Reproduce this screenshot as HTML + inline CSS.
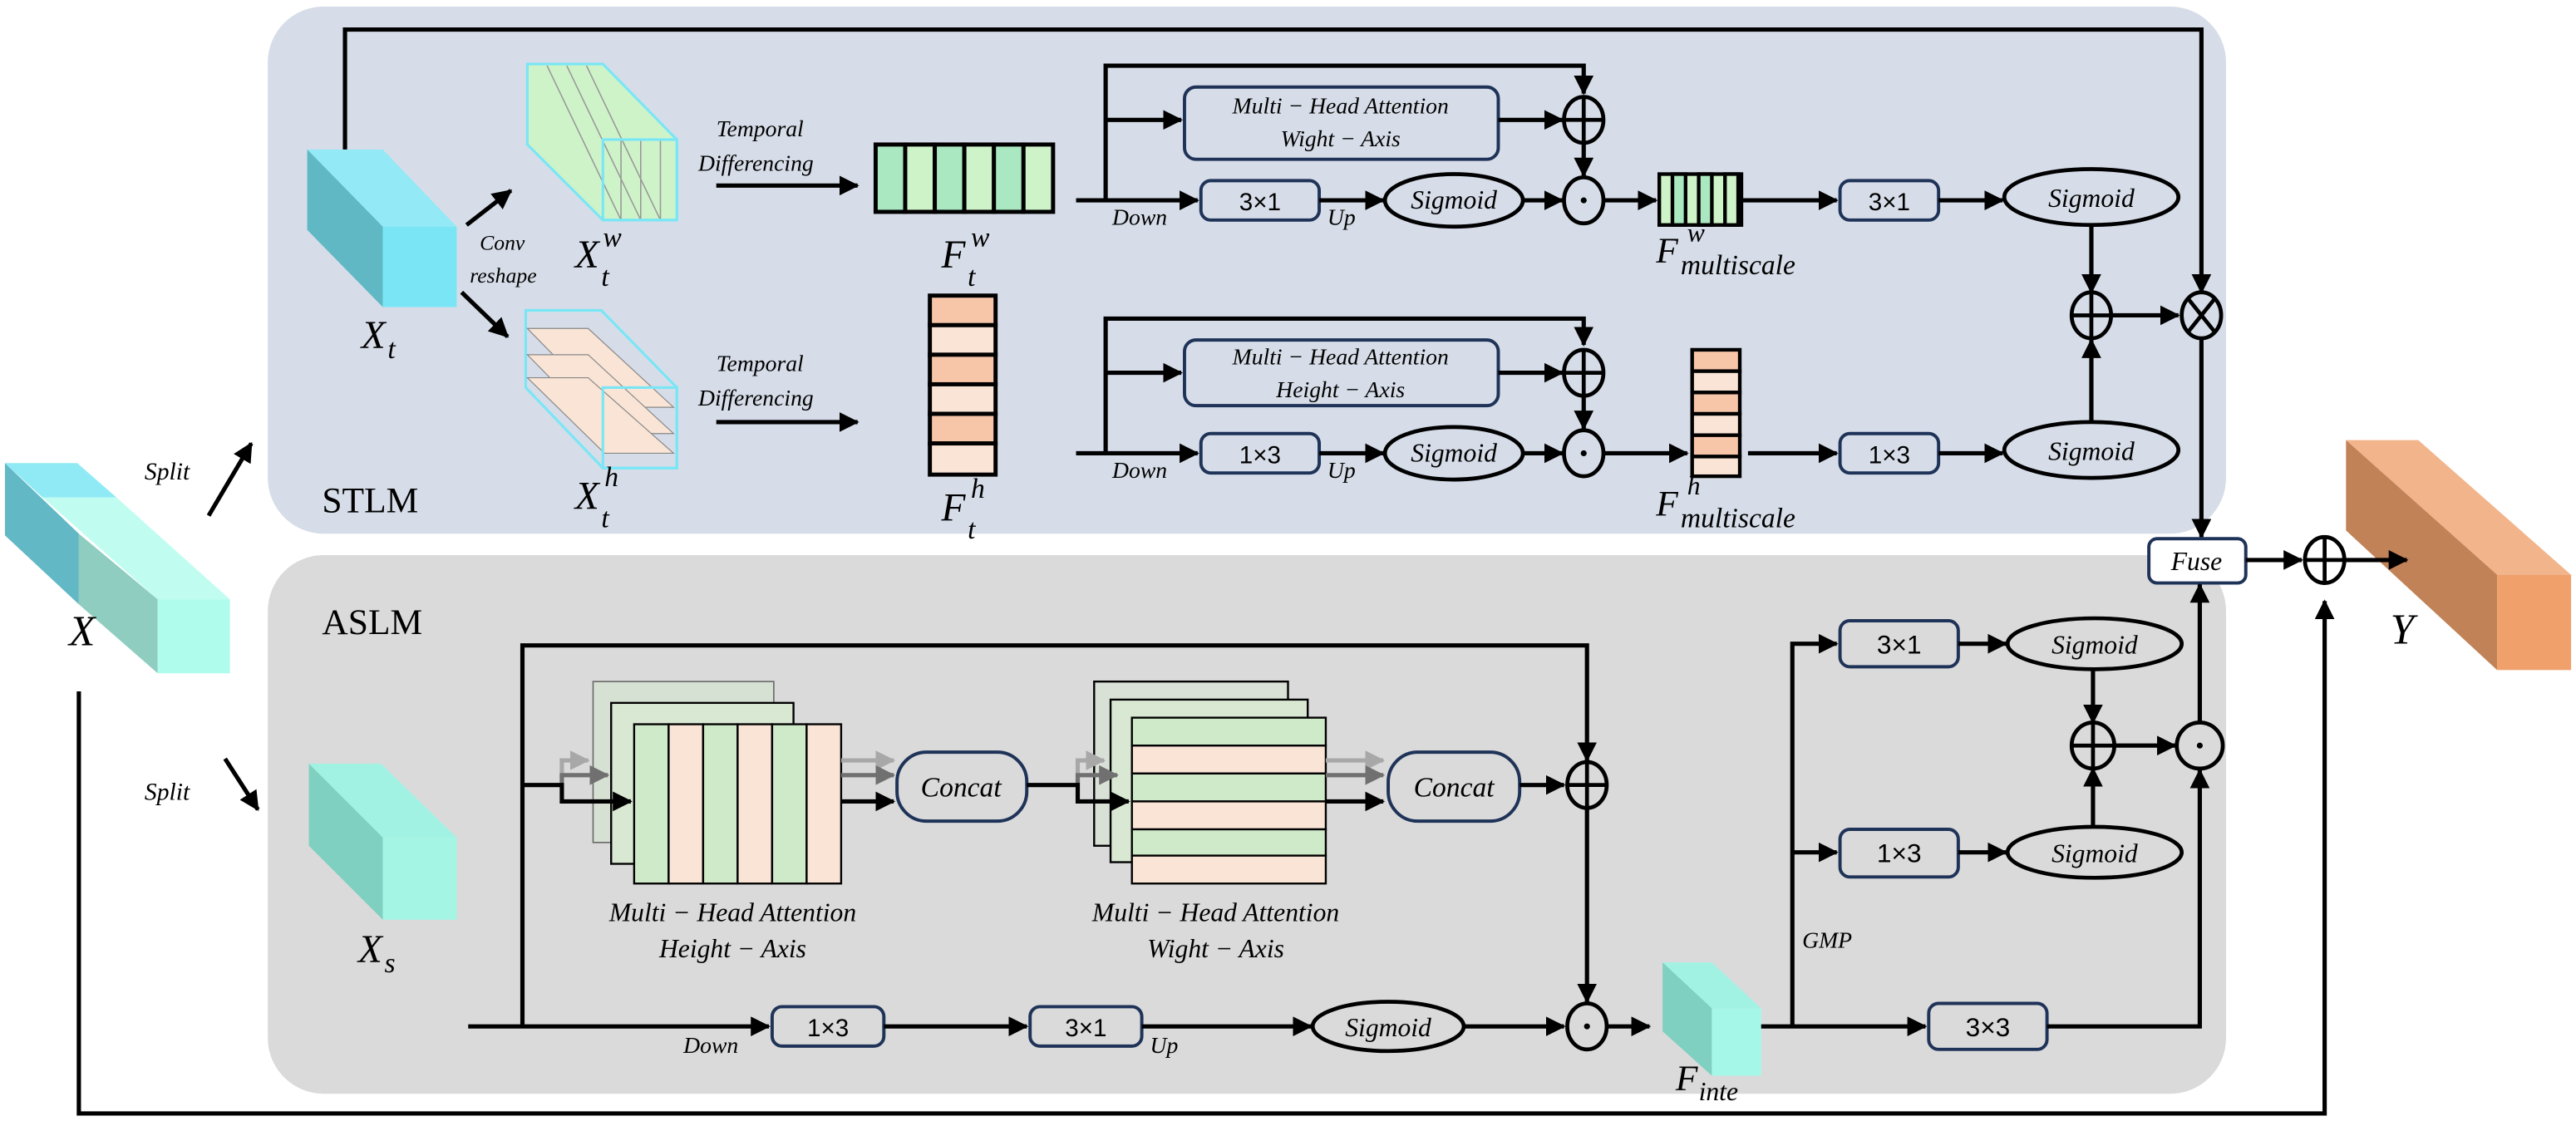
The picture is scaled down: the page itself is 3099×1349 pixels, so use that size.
<!DOCTYPE html>
<html><head><meta charset="utf-8"><style>
html,body{margin:0;padding:0;background:#fff;}
svg{display:block;}
text{font-family:"Liberation Serif",serif;font-style:italic;fill:#000;}
.n{font-style:normal;font-family:"Liberation Sans",sans-serif;}
.l{stroke:#000;stroke-width:2.6;fill:none;}
.b{fill:none;stroke:#1f3358;stroke-width:2;}
.e{fill:none;stroke:#000;stroke-width:2.4;}
</style></head><body>
<svg width="3099" height="1349" viewBox="0 0 1568 682.6" preserveAspectRatio="none" xmlns="http://www.w3.org/2000/svg">
<defs>
<marker id="a" markerUnits="userSpaceOnUse" markerWidth="12" markerHeight="12" refX="11" refY="6" orient="auto"><path d="M0,0 L12,6 L0,12 z" fill="#000"/></marker>
<marker id="g1" markerUnits="userSpaceOnUse" markerWidth="12" markerHeight="12" refX="11" refY="6" orient="auto"><path d="M0,0 L12,6 L0,12 z" fill="#a8a8a8"/></marker>
<marker id="g2" markerUnits="userSpaceOnUse" markerWidth="12" markerHeight="12" refX="11" refY="6" orient="auto"><path d="M0,0 L12,6 L0,12 z" fill="#707070"/></marker>
</defs>

<!-- panels -->
<rect x="163" y="4" width="1192" height="321" rx="34" fill="#d6dde8"/>
<rect x="163" y="338" width="1192" height="328" rx="34" fill="#dadada"/>
<text x="196" y="312" class="n" style="font-family:'Liberation Serif',serif;font-size:22px">STLM</text>
<text x="196" y="386" class="n" style="font-family:'Liberation Serif',serif;font-size:22px">ASLM</text>

<!-- X cube -->
<polygon points="3,282 47,282 71,303 26,303" fill="#90eaf5"/>
<polygon points="26,303 71,303 140,365 96,365" fill="#c0fdf0"/>
<polygon points="3,282 48,325 48,368 3,326" fill="#62b8c5"/>
<polygon points="48,325 96,365 96,410 48,368" fill="#8fcdc0"/>
<rect x="96" y="365" width="44" height="45" fill="#b0fcec"/>
<text x="42" y="393" style="font-size:26px">X</text>
<path class="l" d="M48,421 V678 H1415 V366" marker-end="url(#a)"/>
<text x="88" y="292" style="font-size:15px">Split</text>
<line class="l" x1="127" y1="314" x2="153" y2="270" marker-end="url(#a)"/>
<text x="88" y="487" style="font-size:15px">Split</text>
<line class="l" x1="137" y1="462" x2="157" y2="493" marker-end="url(#a)"/>

<!-- X_t cube -->
<polygon points="187,91 233,91 278,138 233,138" fill="#93e9f5"/>
<polygon points="187,91 233,138 233,187 187,140" fill="#61b8c5"/>
<rect x="233" y="138" width="45" height="49" fill="#7ae6f5"/>
<text x="220" y="212" style="font-size:24px">X</text><text x="236" y="218" style="font-size:17px">t</text>
<path class="l" d="M210,91 V18 H1340 V178" marker-end="url(#a)"/>
<line class="l" x1="284" y1="137" x2="311" y2="116" marker-end="url(#a)"/>
<line class="l" x1="281" y1="178" x2="309" y2="205" marker-end="url(#a)"/>
<text x="292" y="152" style="font-size:13px">Conv</text>
<text x="286" y="172" style="font-size:13px">reshape</text>

<!-- X_t^w -->
<polygon points="321,39 367,39 412,85 412,134 367,134 321,88" fill="#cff3c9"/>
<g stroke="#999" stroke-width="0.8">
<line x1="333" y1="40" x2="378" y2="134"/><line x1="345" y1="40" x2="390" y2="134"/><line x1="357" y1="40" x2="402" y2="134"/>
<line x1="378" y1="85" x2="378" y2="134"/><line x1="390" y1="85" x2="390" y2="134"/><line x1="402" y1="85" x2="402" y2="134"/>
</g>
<polygon points="321,39 367,39 412,85 412,134 367,134 321,88" fill="none" stroke="#7ae6f5" stroke-width="1.6"/>
<rect x="367" y="85" width="45" height="49" fill="none" stroke="#7ae6f5" stroke-width="1.6"/>
<text x="350" y="163" style="font-size:24px">X</text><text x="367" y="150" style="font-size:17px">w</text><text x="366" y="174" style="font-size:17px">t</text>

<!-- X_t^h -->
<polygon points="320,189 366,189 412,236 412,285 367,285 320,236" fill="none" stroke="#7ae6f5" stroke-width="1.6"/>
<polygon points="321,200 358,200 410,248 368,248" fill="#f9e4d6" stroke="#888" stroke-width="0.6"/>
<polygon points="321,216 358,216 410,264 368,264" fill="#f9e4d6" stroke="#888" stroke-width="0.6"/>
<polygon points="321,230 358,230 410,276 368,276" fill="#f9e4d6" stroke="#888" stroke-width="0.6"/>
<rect x="367" y="236" width="45" height="49" fill="none" stroke="#7ae6f5" stroke-width="1.6"/>
<text x="350" y="310" style="font-size:24px">X</text><text x="368" y="296" style="font-size:17px">h</text><text x="366" y="321" style="font-size:17px">t</text>

<!-- temporal diff -->
<text x="436" y="83" style="font-size:14px">Temporal</text>
<text x="425" y="104" style="font-size:14px">Differencing</text>
<line class="l" x1="436" y1="113" x2="522" y2="113" marker-end="url(#a)"/>
<text x="436" y="226" style="font-size:14px">Temporal</text>
<text x="425" y="247" style="font-size:14px">Differencing</text>
<line class="l" x1="436" y1="257" x2="522" y2="257" marker-end="url(#a)"/>

<!-- F_t^w -->
<g stroke="#000" stroke-width="2.5">
<rect x="533" y="88" width="18" height="41" fill="#a9e8c0"/><rect x="551" y="88" width="18" height="41" fill="#cff3c9"/>
<rect x="569" y="88" width="18" height="41" fill="#a9e8c0"/><rect x="587" y="88" width="18" height="41" fill="#cff3c9"/>
<rect x="605" y="88" width="18" height="41" fill="#a9e8c0"/><rect x="623" y="88" width="18" height="41" fill="#cff3c9"/>
</g>
<text x="573" y="163" style="font-size:24px">F</text><text x="591" y="150" style="font-size:17px">w</text><text x="589" y="174" style="font-size:17px">t</text>
<!-- F_t^h -->
<g stroke="#000" stroke-width="2.5">
<rect x="566" y="180" width="40" height="18" fill="#f7c5a8"/><rect x="566" y="198" width="40" height="18" fill="#f9e4d6"/>
<rect x="566" y="216" width="40" height="18" fill="#f7c5a8"/><rect x="566" y="234" width="40" height="18" fill="#f9e4d6"/>
<rect x="566" y="252" width="40" height="18" fill="#f7c5a8"/><rect x="566" y="270" width="40" height="19" fill="#f9e4d6"/>
</g>
<text x="573" y="317" style="font-size:24px">F</text><text x="591" y="303" style="font-size:17px">h</text><text x="589" y="328" style="font-size:17px">t</text>

<!-- upper STLM branch -->
<path class="l" d="M673,122 V40 H964 V57" marker-end="url(#a)"/>
<line class="l" x1="673" y1="73" x2="719" y2="73" marker-end="url(#a)"/>
<line class="l" x1="655" y1="122" x2="729" y2="122" marker-end="url(#a)"/>
<rect class="b" x="721" y="53" width="191" height="44" rx="7"/>
<text x="816" y="69" text-anchor="middle" style="font-size:14px">Multi − Head Attention</text>
<text x="816" y="89" text-anchor="middle" style="font-size:14px">Wight − Axis</text>
<line class="l" x1="912" y1="73" x2="951" y2="73" marker-end="url(#a)"/>
<ellipse class="e" cx="964" cy="73" rx="12" ry="14"/><path class="e" d="M952,73H976M964,59V87"/>
<line class="l" x1="964" y1="87" x2="964" y2="107" marker-end="url(#a)"/>
<ellipse class="e" cx="964" cy="122" rx="12" ry="14"/><circle cx="964" cy="122" r="1.8"/>
<text x="677" y="137" style="font-size:14px">Down</text>
<rect class="b" x="731" y="110" width="72" height="24" rx="6"/>
<text x="767" y="128" class="n" text-anchor="middle" style="font-size:15px">3×1</text>
<line class="l" x1="803" y1="122" x2="842" y2="122" marker-end="url(#a)"/>
<text x="808" y="137" style="font-size:14px">Up</text>
<ellipse class="e" cx="885" cy="122" rx="42" ry="16"/>
<text x="885" y="127" text-anchor="middle" style="font-size:16px">Sigmoid</text>
<line class="l" x1="927" y1="122" x2="951" y2="122" marker-end="url(#a)"/>
<line class="l" x1="976" y1="122" x2="1008" y2="122" marker-end="url(#a)"/>
<g stroke="#000" stroke-width="2.2">
<rect x="1010" y="106" width="50" height="31" fill="#cff3c9"/>
<rect x="1018" y="106" width="8" height="31" fill="#a9e8c0"/><rect x="1034" y="106" width="8" height="31" fill="#a9e8c0"/><rect x="1050" y="106" width="8" height="31" fill="#cff3c9"/>
</g>
<text x="1008" y="160" style="font-size:22px">F</text><text x="1027" y="147" style="font-size:16px">w</text><text x="1023" y="167" style="font-size:17px">multiscale</text>
<line class="l" x1="1060" y1="122" x2="1118" y2="122" marker-end="url(#a)"/>
<rect class="b" x="1120" y="110" width="60" height="24" rx="6"/>
<text x="1150" y="128" class="n" text-anchor="middle" style="font-size:15px">3×1</text>
<line class="l" x1="1180" y1="122" x2="1219" y2="122" marker-end="url(#a)"/>
<ellipse class="e" cx="1273" cy="120" rx="53" ry="17"/>
<text x="1273" y="126" text-anchor="middle" style="font-size:16px">Sigmoid</text>
<line class="l" x1="1273" y1="137" x2="1273" y2="178" marker-end="url(#a)"/>
<ellipse class="e" cx="1273" cy="192" rx="12" ry="14"/><path class="e" d="M1261,192H1285M1273,178V206"/>
<line class="l" x1="1285" y1="192" x2="1326" y2="192" marker-end="url(#a)"/>
<ellipse class="e" cx="1340" cy="192" rx="12" ry="14"/><path class="e" d="M1332,182L1348,202M1348,182L1332,202"/>
<line class="l" x1="1340" y1="206" x2="1340" y2="327" marker-end="url(#a)"/>

<!-- lower STLM branch -->
<path class="l" d="M673,276 V194 H964 V210" marker-end="url(#a)"/>
<line class="l" x1="673" y1="227" x2="719" y2="227" marker-end="url(#a)"/>
<line class="l" x1="655" y1="276" x2="729" y2="276" marker-end="url(#a)"/>
<rect class="b" x="721" y="207" width="191" height="40" rx="7"/>
<text x="816" y="222" text-anchor="middle" style="font-size:14px">Multi − Head Attention</text>
<text x="816" y="242" text-anchor="middle" style="font-size:14px">Height − Axis</text>
<line class="l" x1="912" y1="227" x2="951" y2="227" marker-end="url(#a)"/>
<ellipse class="e" cx="964" cy="227" rx="12" ry="14"/><path class="e" d="M952,227H976M964,213V241"/>
<line class="l" x1="964" y1="241" x2="964" y2="261" marker-end="url(#a)"/>
<ellipse class="e" cx="964" cy="276" rx="12" ry="14"/><circle cx="964" cy="276" r="1.8"/>
<text x="677" y="291" style="font-size:14px">Down</text>
<rect class="b" x="731" y="264" width="72" height="24" rx="6"/>
<text x="767" y="282" class="n" text-anchor="middle" style="font-size:15px">1×3</text>
<line class="l" x1="803" y1="276" x2="842" y2="276" marker-end="url(#a)"/>
<text x="808" y="291" style="font-size:14px">Up</text>
<ellipse class="e" cx="885" cy="276" rx="42" ry="16"/>
<text x="885" y="281" text-anchor="middle" style="font-size:16px">Sigmoid</text>
<line class="l" x1="927" y1="276" x2="951" y2="276" marker-end="url(#a)"/>
<line class="l" x1="976" y1="276" x2="1027" y2="276" marker-end="url(#a)"/>
<g stroke="#000" stroke-width="2.2">
<rect x="1030" y="213" width="29" height="13" fill="#f7c5a8"/><rect x="1030" y="226" width="29" height="13" fill="#f9e4d6"/>
<rect x="1030" y="239" width="29" height="13" fill="#f7c5a8"/><rect x="1030" y="252" width="29" height="13" fill="#f9e4d6"/>
<rect x="1030" y="265" width="29" height="13" fill="#f7c5a8"/><rect x="1030" y="278" width="29" height="12" fill="#f9e4d6"/>
</g>
<text x="1008" y="314" style="font-size:22px">F</text><text x="1027" y="301" style="font-size:16px">h</text><text x="1023" y="321" style="font-size:17px">multiscale</text>
<line class="l" x1="1064" y1="276" x2="1118" y2="276" marker-end="url(#a)"/>
<rect class="b" x="1120" y="264" width="60" height="24" rx="6"/>
<text x="1150" y="282" class="n" text-anchor="middle" style="font-size:15px">1×3</text>
<line class="l" x1="1180" y1="276" x2="1219" y2="276" marker-end="url(#a)"/>
<ellipse class="e" cx="1273" cy="274" rx="53" ry="17"/>
<text x="1273" y="280" text-anchor="middle" style="font-size:16px">Sigmoid</text>
<line class="l" x1="1273" y1="257" x2="1273" y2="207" marker-end="url(#a)"/>

<!-- Fuse and output -->
<rect x="1308" y="328" width="59" height="27" rx="5" fill="#fff" stroke="#1f3358" stroke-width="2"/>
<text x="1337" y="347" text-anchor="middle" style="font-size:16px">Fuse</text>
<line class="l" x1="1367" y1="341" x2="1401" y2="341" marker-end="url(#a)"/>
<ellipse class="e" cx="1415" cy="341" rx="12" ry="14"/><path class="e" d="M1403,341H1427M1415,327V355"/>
<polygon points="1428,268 1472,268 1565,350 1520,350" fill="#f2b48a"/>
<polygon points="1428,268 1520,350 1520,408 1428,323" fill="#c28257"/>
<rect x="1520" y="350" width="45" height="58" fill="#f0a06b"/>
<line class="l" x1="1427" y1="341" x2="1465" y2="341" marker-end="url(#a)"/>
<text x="1455" y="392" style="font-size:26px">Y</text>

<!-- ASLM -->
<polygon points="188,465 232,465 278,510 233,510" fill="#a2f2e4"/>
<polygon points="188,465 233,510 233,560 188,515" fill="#7fd0c0"/>
<rect x="233" y="510" width="45" height="50" fill="#a5f5e5"/>
<text x="218" y="586" style="font-size:24px">X</text><text x="234" y="592" style="font-size:17px">s</text>

<path class="l" d="M318,625 V393 H966 V463" marker-end="url(#a)"/>
<line class="l" x1="285" y1="625" x2="468" y2="625" marker-end="url(#a)"/>
<!-- stack1 -->
<rect x="361" y="415" width="110" height="98" fill="#d7e1d3" stroke="#666" stroke-width="0.8"/>
<rect x="372" y="428" width="111" height="98" fill="#d9e8d2" stroke="#000" stroke-width="1.2"/>
<g stroke="#000" stroke-width="1.2">
<rect x="386" y="441" width="21" height="97" fill="#cfeac8"/><rect x="407" y="441" width="21" height="97" fill="#f9e4d6"/>
<rect x="428" y="441" width="21" height="97" fill="#cfeac8"/><rect x="449" y="441" width="21" height="97" fill="#f9e4d6"/>
<rect x="470" y="441" width="21" height="97" fill="#cfeac8"/><rect x="491" y="441" width="21" height="97" fill="#f9e4d6"/>
</g>
<path d="M342,478 V463 H358" stroke="#a8a8a8" stroke-width="2.6" fill="none" marker-end="url(#g1)"/>
<path d="M342,478 V472 H370" stroke="#707070" stroke-width="2.6" fill="none" marker-end="url(#g2)"/>
<path class="l" d="M318,478 H342 V488 H384" marker-end="url(#a)"/>
<line x1="512" y1="463" x2="544" y2="463" stroke="#a8a8a8" stroke-width="2.6" marker-end="url(#g1)"/>
<line x1="512" y1="472" x2="544" y2="472" stroke="#707070" stroke-width="2.6" marker-end="url(#g2)"/>
<line class="l" x1="512" y1="488" x2="544" y2="488" marker-end="url(#a)"/>
<rect class="b" x="546" y="458" width="79" height="42" rx="18"/>
<text x="585" y="485" text-anchor="middle" style="font-size:17px">Concat</text>
<text x="446" y="561" text-anchor="middle" style="font-size:16px">Multi − Head Attention</text>
<text x="446" y="583" text-anchor="middle" style="font-size:16px">Height − Axis</text>
<!-- stack2 -->
<rect x="666" y="415" width="118" height="100" fill="#d9e1d6" stroke="#000" stroke-width="1.2"/>
<rect x="676" y="426" width="120" height="99" fill="#d9e8d2" stroke="#000" stroke-width="1.2"/>
<g stroke="#000" stroke-width="1.2">
<rect x="689" y="437" width="118" height="17" fill="#cfeac8"/><rect x="689" y="454" width="118" height="17" fill="#f9e4d6"/>
<rect x="689" y="471" width="118" height="17" fill="#cfeac8"/><rect x="689" y="488" width="118" height="17" fill="#f9e4d6"/>
<rect x="689" y="505" width="118" height="16" fill="#cfeac8"/><rect x="689" y="521" width="118" height="17" fill="#f9e4d6"/>
</g>
<path d="M656,478 V463 H672" stroke="#a8a8a8" stroke-width="2.6" fill="none" marker-end="url(#g1)"/>
<path d="M656,478 V472 H680" stroke="#707070" stroke-width="2.6" fill="none" marker-end="url(#g2)"/>
<path class="l" d="M625,478 H656 V488 H687" marker-end="url(#a)"/>
<line x1="807" y1="463" x2="842" y2="463" stroke="#a8a8a8" stroke-width="2.6" marker-end="url(#g1)"/>
<line x1="807" y1="472" x2="842" y2="472" stroke="#707070" stroke-width="2.6" marker-end="url(#g2)"/>
<line class="l" x1="807" y1="488" x2="842" y2="488" marker-end="url(#a)"/>
<rect class="b" x="845" y="458" width="80" height="42" rx="18"/>
<text x="885" y="485" text-anchor="middle" style="font-size:17px">Concat</text>
<text x="740" y="561" text-anchor="middle" style="font-size:16px">Multi − Head Attention</text>
<text x="740" y="583" text-anchor="middle" style="font-size:16px">Wight − Axis</text>
<line class="l" x1="925" y1="478" x2="952" y2="478" marker-end="url(#a)"/>
<ellipse class="e" cx="966" cy="478" rx="12" ry="14"/><path class="e" d="M954,478H978M966,464V492"/>
<line class="l" x1="966" y1="492" x2="966" y2="610" marker-end="url(#a)"/>
<ellipse class="e" cx="966" cy="625" rx="12" ry="14"/><circle cx="966" cy="625" r="1.8"/>
<!-- bottom row -->
<text x="416" y="641" style="font-size:14px">Down</text>
<rect class="b" x="470" y="613" width="68" height="24" rx="6"/>
<text x="504" y="631" class="n" text-anchor="middle" style="font-size:15px">1×3</text>
<line class="l" x1="538" y1="625" x2="625" y2="625" marker-end="url(#a)"/>
<rect class="b" x="627" y="613" width="68" height="24" rx="6"/>
<text x="661" y="631" class="n" text-anchor="middle" style="font-size:15px">3×1</text>
<text x="700" y="641" style="font-size:14px">Up</text>
<line class="l" x1="695" y1="625" x2="798" y2="625" marker-end="url(#a)"/>
<ellipse class="e" cx="845" cy="625" rx="46" ry="15"/>
<text x="845" y="631" text-anchor="middle" style="font-size:16px">Sigmoid</text>
<line class="l" x1="891" y1="625" x2="952" y2="625" marker-end="url(#a)"/>
<line class="l" x1="978" y1="625" x2="1004" y2="625" marker-end="url(#a)"/>
<!-- F_inte cube -->
<polygon points="1012,586 1042,586 1072,614 1042,614" fill="#a2f2e4"/>
<polygon points="1012,586 1042,614 1042,655 1012,628" fill="#7fd0c0"/>
<rect x="1042" y="614" width="30" height="41" fill="#a5f8e8"/>
<text x="1020" y="664" style="font-size:22px">F</text><text x="1034" y="670" style="font-size:16px">inte</text>
<!-- right ASLM -->
<path class="l" d="M1072,625 H1172" marker-end="url(#a)"/>
<path class="l" d="M1091,625 V392 H1118" marker-end="url(#a)"/>
<line class="l" x1="1091" y1="519" x2="1118" y2="519" marker-end="url(#a)"/>
<rect class="b" x="1120" y="378" width="72" height="28" rx="6"/>
<text x="1156" y="398" class="n" text-anchor="middle" style="font-size:16px">3×1</text>
<rect class="b" x="1120" y="505" width="72" height="29" rx="6"/>
<text x="1156" y="525" class="n" text-anchor="middle" style="font-size:16px">1×3</text>
<line class="l" x1="1192" y1="392" x2="1221" y2="392" marker-end="url(#a)"/>
<line class="l" x1="1192" y1="519" x2="1221" y2="519" marker-end="url(#a)"/>
<ellipse class="e" cx="1275" cy="392" rx="53" ry="15.5"/>
<text x="1275" y="398" text-anchor="middle" style="font-size:16px">Sigmoid</text>
<ellipse class="e" cx="1275" cy="519" rx="53" ry="15.5"/>
<text x="1275" y="525" text-anchor="middle" style="font-size:16px">Sigmoid</text>
<line class="l" x1="1274" y1="407" x2="1274" y2="440" marker-end="url(#a)"/>
<line class="l" x1="1274" y1="503" x2="1274" y2="468" marker-end="url(#a)"/>
<ellipse class="e" cx="1274" cy="454" rx="13" ry="14"/><path class="e" d="M1261,454H1287M1274,440V468"/>
<line class="l" x1="1287" y1="454" x2="1324" y2="454" marker-end="url(#a)"/>
<ellipse class="e" cx="1339" cy="454" rx="14" ry="14"/><circle cx="1339" cy="454" r="1.8"/>
<rect class="b" x="1174" y="611" width="72" height="28" rx="6"/>
<text x="1210" y="631" class="n" text-anchor="middle" style="font-size:16px">3×3</text>
<path class="l" d="M1246,625 H1339 V469" marker-end="url(#a)"/>
<line class="l" x1="1339" y1="440" x2="1339" y2="356" marker-end="url(#a)"/>
<text x="1097" y="577" style="font-size:14px">GMP</text>
</svg>
</body></html>
